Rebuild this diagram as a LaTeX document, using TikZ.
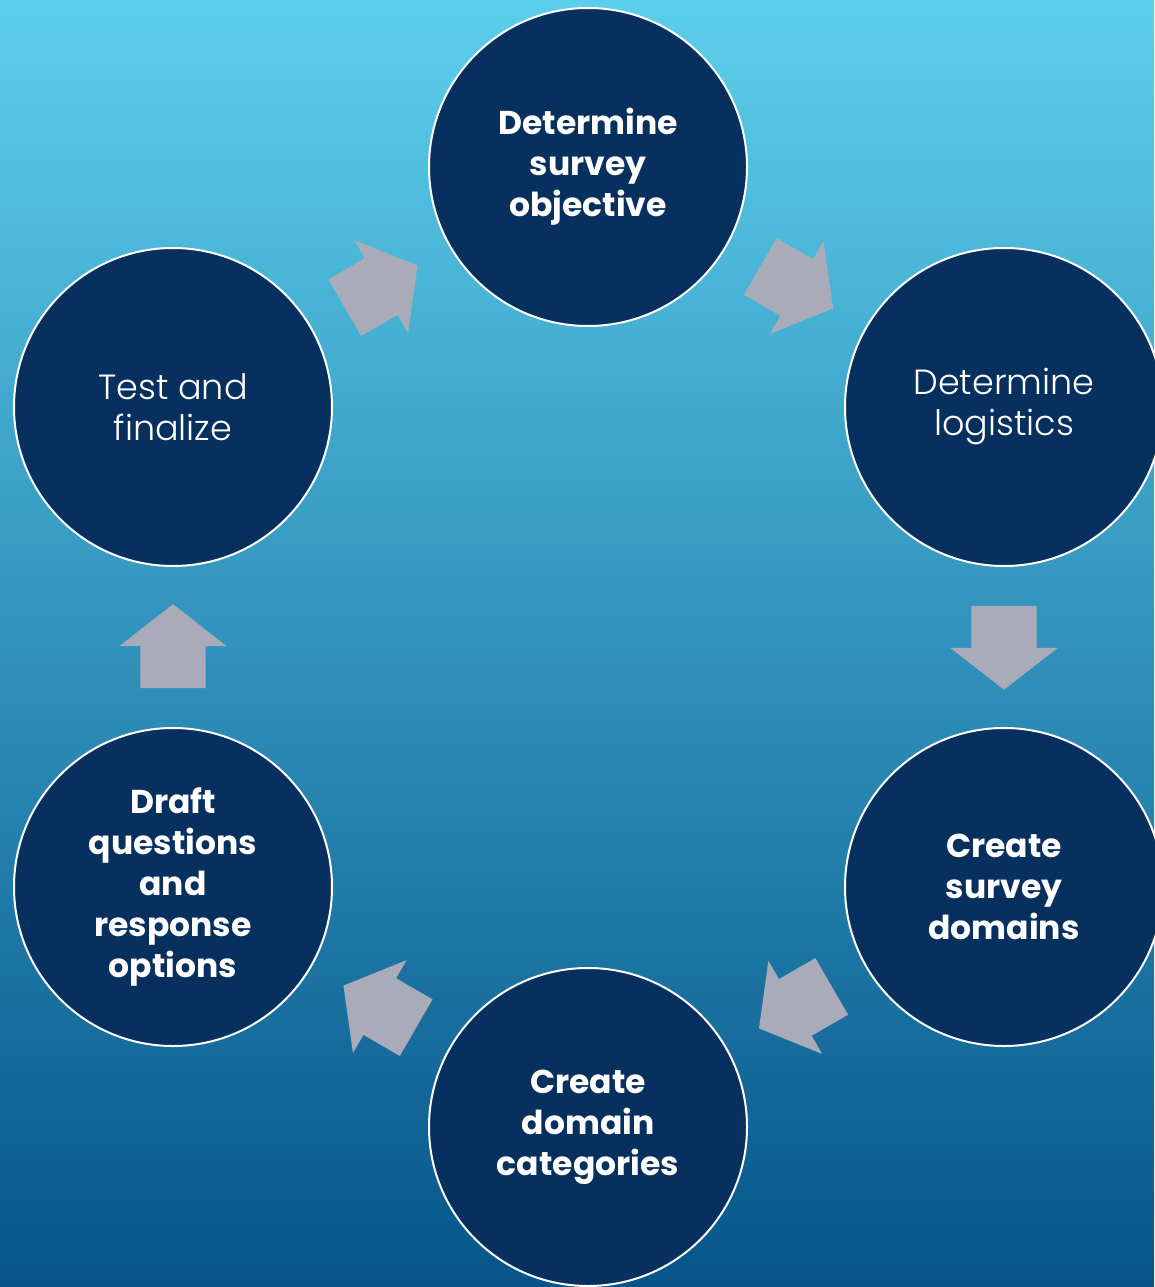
\documentclass[tikz,border=0pt]{standalone}
\usepackage{fontspec}
\setmainfont{Poppins}
\newfontfamily\thinfont{Poppins Light}
\usetikzlibrary{shapes.arrows,calc}
\definecolor{skytop}{HTML}{5CCFEC}
\definecolor{skymid}{HTML}{2F91C2}
\definecolor{skybottom}{HTML}{06558A}
\definecolor{navy}{HTML}{07305F}
\definecolor{arrowgray}{HTML}{A9ACB8}
\tikzset
 {stage/.style =            % dark discs with a white rim, one for every step
   {circle, draw=white, line width=2pt, fill=navy, minimum size=318pt,
    inner sep=0pt, text=white, align=center,
    font=\bfseries\fontsize{33}{41}\selectfont
   },
  light/.style = {font=\thinfont\fontsize{35}{41}\selectfont}, % thin text
  turn/.style =               % grey block arrow, rotated to point onwards
   {single arrow, fill=arrowgray, draw=none,
    inner xsep=0pt, inner ysep=32.5pt,        % ysep gives the shaft width
    minimum height=84pt, minimum width=107pt,
    single arrow head extend=21pt, single arrow tip angle=104,
    rotate=#1, xshift=-12pt                   % centre the arrow, not its tail
   }
 }

\begin{document}
\begin{tikzpicture}[x=1pt, y=-1pt]
    \useasboundingbox (0,0) rectangle (1154,1287);
    \shade[top color=skytop, middle color=skymid, bottom color=skybottom]
        (0,0) rectangle (1154,1287);
    % the six steps, clockwise from the top
    \node[stage] (objective)  at (588,167)  {Determine\\survey\\objective};
    \node[stage, light] (logistics) at (1004,407) {Determine\\logistics};
    \node[stage] (domains)    at (1004,887) {Create\\survey\\domains};
    \node[stage] (categories) at (588,1127) {Create\\domain\\categories};
    \node[stage] (questions)  at (173,887)  {Draft\\questions\\and\\response\\options};
    \node[stage, light] (test) at (173,407) {Test and\\finalize};
    % arrows half way between neighbours
    \node[turn=-30] (a1) at ($(objective)!0.5!(logistics)$) {};
    \node[turn=-90] (a2) at ($(logistics)!0.5!(domains)$) {};
    \node[turn=210] (a3) at ($(domains)!0.5!(categories)$) {};
    \node[turn=150] (a4) at ($(categories)!0.5!(questions)$) {};
    \node[turn=90]  (a5) at ($(questions)!0.5!(test)$) {};
    \node[turn=30]  (a6) at ($(test)!0.5!(objective)$) {};
\end{tikzpicture}
\end{document}
